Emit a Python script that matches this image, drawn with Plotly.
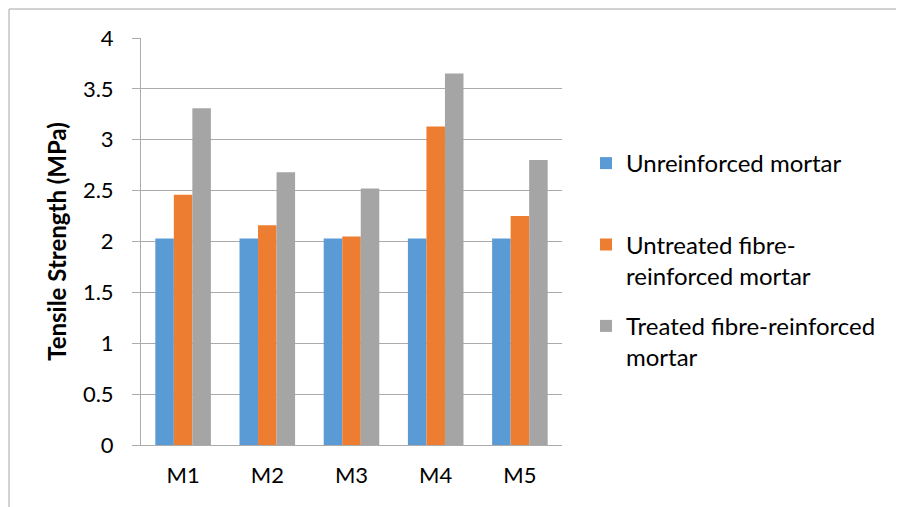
import plotly.graph_objects as go

categories = ["M1", "M2", "M3", "M4", "M5"]
unreinforced = [2.03, 2.03, 2.03, 2.03, 2.03]
untreated = [2.46, 2.16, 2.05, 3.13, 2.25]
treated = [3.31, 2.68, 2.52, 3.65, 2.80]
series_names = ["Unreinforced mortar<br>&nbsp;", "Untreated fibre-<br>reinforced mortar", "Treated fibre-reinforced<br>mortar"]
colors = ["#5B9BD5", "#ED7D31", "#A5A5A5"]
y_ticks = [0, 0.5, 1, 1.5, 2, 2.5, 3, 3.5, 4]
y_tick_text = ["0", "0.5", "1", "1.5", "2", "2.5", "3", "3.5", "4"]

FONT = "Lato, 'Open Sans', sans-serif"

fig = go.Figure()
for i, (name, vals) in enumerate(zip(series_names, [unreinforced, untreated, treated])):
    fig.add_trace(go.Bar(x=categories, y=vals, name=name, marker_color=colors[i],
                         marker_line_width=0, legendgroup=f"g{i}"))

# page has an 8px body margin; work in page pixels and subtract it
OFF = 8
W, H = 904 - OFF, 507 - OFF
L, R, T, B = 141 - OFF, 342, 38 - OFF, 62
pw, ph = W - L - R, H - T - B

def px2paper_x(px):
    return (px - OFF - L) / pw

def px2paper_y(py):
    return (H - B - (py - OFF)) / ph

fig.update_layout(
    width=W, height=H,
    margin=dict(l=L, r=R, t=T, b=B, pad=0),
    paper_bgcolor="white", plot_bgcolor="white",
    barmode="group", bargap=0.34, bargroupgap=0,
    font=dict(family=FONT, size=22, color="#000000"),
    showlegend=True,
    legend=dict(x=px2paper_x(586), y=px2paper_y(141), xanchor="left", yanchor="top",
                font=dict(size=24, family=FONT), tracegroupgap=16, valign="top",
                itemwidth=30, bgcolor="rgba(0,0,0,0)"),
    xaxis=dict(showgrid=False, showline=True, linecolor="#ababab", linewidth=1,
               ticks="", tickfont=dict(size=22), ticklabelstandoff=11),
    yaxis=dict(range=[0, 4], tickvals=y_ticks, ticktext=y_tick_text,
               showgrid=True, gridcolor="#ababab", gridwidth=1,
               showline=True, linecolor="#ababab", linewidth=1,
               ticks="outside", ticklen=8, tickcolor="#ababab",
               tickfont=dict(size=22), zeroline=False, ticklabelstandoff=14,
               title=dict(text="<b>Tensile Strength (MPa)</b>", font=dict(size=24), standoff=9)),
    shapes=[
        dict(type="line", xref="paper", yref="paper", x0=px2paper_x(9), x1=px2paper_x(904),
             y0=px2paper_y(9), y1=px2paper_y(9), line=dict(color="#a6a6a6", width=1)),
        dict(type="line", xref="paper", yref="paper", x0=px2paper_x(9), x1=px2paper_x(9),
             y0=px2paper_y(9), y1=px2paper_y(507), line=dict(color="#a6a6a6", width=1)),
    ],
)

fig.write_html("out.html")
